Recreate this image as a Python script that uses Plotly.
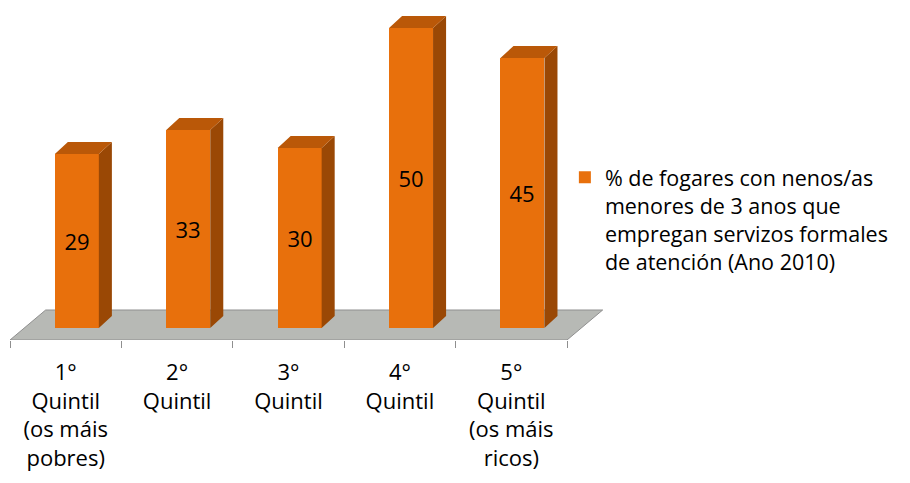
import plotly.graph_objects as go

# ---- data ----
categories = ["1°<br>Quintil<br>(os máis<br>pobres)", "2°<br>Quintil", "3°<br>Quintil",
              "4°<br>Quintil", "5°<br>Quintil<br>(os máis<br>ricos)"]
values = [29, 33, 30, 50, 45]
series_name = ("% de fogares con nenos/as<br>menores de 3 anos que<br>"
               "empregan servizos formales<br>de atención (Ano 2010)")

# ---- style constants ----
FONT = "Open Sans"
FRONT = "#E8700C"
SIDE = "#9A4805"
TOP = "#BA5808"
FLOOR = "#B7B9B5"
FLOOR_LINE = "#8F8F8F"

n = len(categories)
idx = list(range(n))
bar_off = 0.10      # shift of bar into depth
bar_w = 0.395
bdx, bdy = 0.117, 2.0   # bar depth projection (x units, value units)
fy_front, fy_back, fdx = -2.0, 3.0, 0.32

fig = go.Figure()

# front faces
fig.add_trace(go.Bar(
    x=[i + bar_off for i in idx], y=values, width=bar_w,
    marker=dict(color=FRONT, line=dict(width=0)),
    text=[str(v) for v in values], textposition="inside",
    insidetextanchor="middle", textangle=0,
    textfont=dict(family=FONT, size=22, color="black"),
    name=series_name, showlegend=True,
))

# side and top faces
sx, sy, tx, ty = [], [], [], []
for i, v in zip(idx, values):
    xl = i + bar_off - bar_w / 2
    xr = i + bar_off + bar_w / 2
    sx += [xr, xr + bdx, xr + bdx, xr, xr, None]
    sy += [0, bdy, v + bdy, v, 0, None]
    tx += [xl, xr, xr + bdx, xl + bdx, xl, None]
    ty += [v, v, v + bdy, v + bdy, v, None]
fig.add_trace(go.Scatter(x=sx, y=sy, fill="toself", fillcolor=SIDE, mode="lines",
                         line=dict(width=0, color=SIDE), showlegend=False, hoverinfo="skip"))
fig.add_trace(go.Scatter(x=tx, y=ty, fill="toself", fillcolor=TOP, mode="lines",
                         line=dict(width=0, color=TOP), showlegend=False, hoverinfo="skip"))

# floor
x0, x1 = -0.5, n - 0.5
floor_path = (f"M {x0},{fy_front} L {x1},{fy_front} L {x1 + fdx},{fy_back} "
              f"L {x0 + fdx},{fy_back} Z")
fig.add_shape(type="path", path=floor_path, xref="x", yref="y", layer="below",
              fillcolor=FLOOR, line=dict(color=FLOOR_LINE, width=1))

fig.update_layout(
    width=910, height=483,
    margin=dict(l=10, r=304, t=10, b=143),
    paper_bgcolor="white", plot_bgcolor="white",
    font=dict(family=FONT, size=22, color="black"),
    showlegend=True,
    legend=dict(x=0.931, xanchor="left", y=0.555, yanchor="top", valign="top",
                font=dict(family=FONT, size=21.5, color="black"),
                bgcolor="rgba(0,0,0,0)", tracegroupgap=0, borderwidth=0),
    bargap=0,
)
fig.update_xaxes(
    range=[-0.5, n - 0.5 + 0.35], showgrid=False, zeroline=False, showline=False,
    tickvals=idx, ticktext=categories, ticks="", tickfont=dict(family=FONT, size=22),
    ticklabelstandoff=17, automargin=False,
    minor=dict(tickvals=[i - 0.5 for i in range(n + 1)], ticks="outside", ticklen=7,
               tickcolor=FLOOR_LINE, tickwidth=1, showgrid=False),
)
fig.update_yaxes(range=[-2, 53], visible=False, automargin=False)

fig.write_html("out.html")
